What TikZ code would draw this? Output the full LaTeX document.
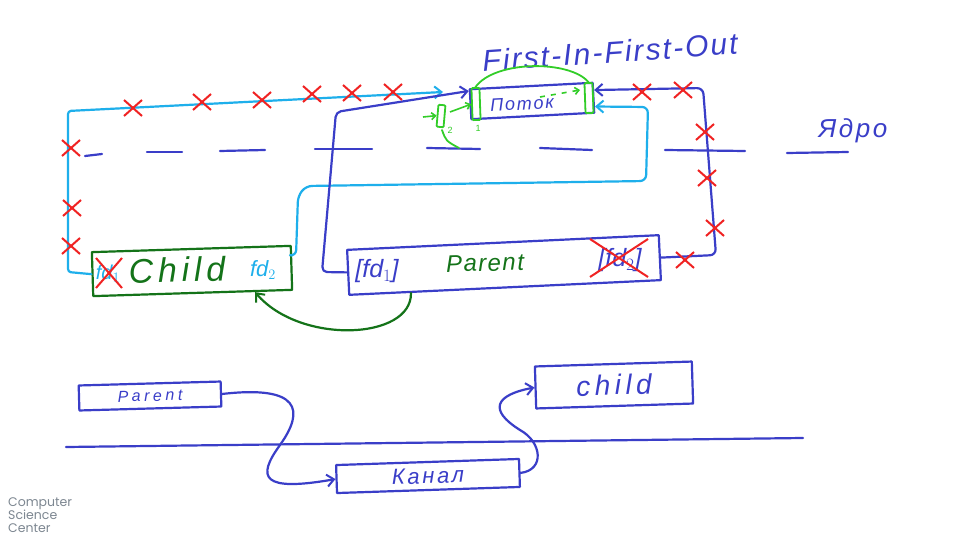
\documentclass[tikz,border=0pt]{standalone}
\usepackage{fontspec}
\setmainfont{Liberation Sans}
\newfontfamily\logofont{Poppins}
\usetikzlibrary{arrows.meta,shapes.misc,calc}
\definecolor{dblue}{RGB}{58,62,200}
\definecolor{cyanc}{RGB}{30,175,235}
\definecolor{redc}{RGB}{240,35,35}
\definecolor{lgreen}{RGB}{50,205,40}
\definecolor{dgreen}{RGB}{20,115,25}
\definecolor{logogray}{RGB}{125,135,145}
\newcommand{\fsz}[1]{\fontsize{#1}{#1}\selectfont}
\newcommand{\hw}[2]{\itshape\fontsize{#1}{#1}\selectfont\addfontfeatures{LetterSpace=#2}}
\begin{document}
\begin{tikzpicture}[x=1pt,y=-1pt,
  hand/.style={line width=2.2pt, line cap=round, line join=round},
  box/.style={hand, draw=dblue, rectangle, inner sep=0pt},
  gbox/.style={hand, draw=dgreen, rectangle, inner sep=0pt},
  lgbox/.style={line width=1.8pt, draw=lgreen, rectangle, rounded corners=1pt, inner sep=0pt},
  tip/.style={-{Straight Barb[length=7pt,width=12pt,line width=2pt]}},
  smalltip/.style={-{Straight Barb[length=4pt,width=7pt,line width=1.6pt]}},
  xmark/.style={cross out, draw=redc, line width=2pt, minimum width=16pt, minimum height=14pt, inner sep=0pt},
  dashseg/.style={hand, draw=dblue},
]
\useasboundingbox (0,0) rectangle (960,540);
\fill[white] (0,0) rectangle (960,540);

% ---- dashed kernel line
\draw[dashseg] (85,156) -- (102,154);
\draw[dashseg] (147,152) -- (182,152);
\draw[dashseg] (220,151) -- (265,150);
\draw[dashseg] (315,149) -- (372,149);
\draw[dashseg] (427,148) -- (480,149);
\draw[dashseg] (540,148) -- (592,150);
\draw[dashseg] (665,150) -- (745,151);
\draw[dashseg] (787,153) -- (848,152);
\node[text=dblue, font=\hw{26}{10}] (yadro) at (853,131) {Ядро};

% ---- title
\node[text=dblue, font=\hw{30}{7}, rotate=4] (fifo) at (610,52) {First-In-First-Out};

% ---- boxes
\node[box, minimum width=123pt, minimum height=30pt, rotate=3] (potok) at (532,101) {};
\node[text=dblue, font=\hw{18}{10}, rotate=3] (potokt) at (522,104) {Поток};

\node[gbox, minimum width=199pt, minimum height=44pt, rotate=1.8] (child) at (192,271) {};
\node[text=dgreen, font=\hw{34}{14}, rotate=1.8] (childt) at (177,270) {Child};
\node[text=cyanc, font=\hw{22}{0}] (cfd2) at (263,270) {fd$_2$};
\node[text=cyanc, font=\hw{20}{0}] (cfd1) at (108,274) {fd$_1$};
\node[xmark, minimum width=24pt, minimum height=28pt] (cx1) at (109,273) {};

\node[box, minimum width=312pt, minimum height=45pt, rotate=2.7] (parent) at (504,265) {};
\node[text=dblue, font=\hw{25}{0}] (pfd1) at (377,271) {[fd$_1$]};
\node[text=dgreen, font=\hw{24}{6}, rotate=2] (parentt) at (485,263) {Parent};
\node[text=dblue, font=\hw{25}{0}] (pfd2) at (620,260) {[fd$_2$]};
\node[xmark, minimum width=56pt, minimum height=36pt] (px) at (619,258) {};

% ---- green marks in the pipe
\node[lgbox, minimum width=8pt, minimum height=32pt, rotate=2] (gl) at (476,104) {};
\node[lgbox, minimum width=8pt, minimum height=30pt, rotate=2] (gr) at (589,98) {};
\node[lgbox, minimum width=7pt, minimum height=22pt, rotate=-5] (g2) at (441,116) {};
\draw[hand, draw=lgreen, line width=1.8pt] (gl.north) .. controls (495,60) and (570,60) .. (gr.north);
\draw[draw=lgreen, line width=1.6pt, dashed, dash pattern=on 5pt off 6pt, smalltip] (540,97) -- (580,90);
\draw[draw=lgreen, line width=1.6pt, smalltip] (423,117) -- (g2.west);
\coordinate (ga) at (450,112);
\draw[draw=lgreen, line width=1.6pt, smalltip] (ga) -- (gl.west);
\node[text=lgreen, font=\fsz{9}] (n2) at (450,130) {2};
\node[text=lgreen, font=\fsz{9}] (n1) at (478,128) {1};
\draw[draw=lgreen, line width=1.8pt, line cap=round] (442,130) .. controls (446,141) .. (459,148);

% ---- cyan connector Child fd1 -> pipe
\coordinate (cyanend) at (443,92);
\draw[hand, draw=cyanc, tip, rounded corners=3pt] (child.west) -- (68,272) -- (68,111) -- (cyanend);
% ---- cyan connector Child fd2 -> pipe
\draw[hand, draw=cyanc, tip, rounded corners=6pt] (child.7) -- (296,256) -- (298,196) -- (306,186) -- (646,181) -- (648,107) -- (potok.-8);

% ---- blue connector Parent fd1 -> pipe
\draw[hand, draw=dblue, tip, rounded corners=5pt] (parent.west) -- (322,272) -- (336,112) -- (potok.168);
% ---- blue connector Parent fd2 -> pipe
\draw[hand, draw=dblue, tip, rounded corners=6pt] (parent.east) -- (716,255) -- (703,88) -- (potok.7);

% ---- red crosses
\foreach \i/\p in {1/{(133,108)},2/{(202,102)},3/{(262,100)},4/{(312,94)},5/{(352,93)},6/{(393,92)},
                   7/{(71,148)},8/{(72,208)},9/{(71,246)},
                   10/{(642,92)},11/{(683,90)},12/{(705,132)},13/{(707,178)},14/{(715,228)},15/{(685,260)}}
  \node[xmark] (x\i) at \p {};

% ---- green arrow Parent -> Child
\coordinate (gs) at ($(parent.south west)!0.2!(parent.south east)$);
\coordinate (ge) at ($(child.south west)!0.81!(child.south east)$);
\draw[hand, draw=dgreen, tip] (gs) .. controls (412,340) and (300,345) .. (ge);

% ---- bottom part
\draw[hand, draw=dblue] (66,447) -- (803,438);
\node[box, minimum width=142pt, minimum height=25pt, rotate=1.6, text=dblue, font=\hw{16}{22}] (sparent) at (150,396) {Parent};
\node[box, minimum width=183pt, minimum height=28pt, rotate=1.9, text=dblue, font=\hw{22}{12}] (kanal) at (428,476) {Канал};
\node[box, minimum width=157pt, minimum height=42pt, rotate=1.8, text=dblue, font=\hw{28}{16}] (child2) at (614,385) {child};
\draw[hand, draw=dblue, tip] (sparent.east) .. controls (300,385) and (305,410) .. (280,445) .. controls (256,478) and (262,492) .. (kanal.west);
\draw[hand, draw=dblue, tip] (kanal.east) .. controls (545,470) and (542,442) .. (520,430) .. controls (488,410) and (495,395) .. (child2.west);

% ---- logo
\node[anchor=north west, text=logogray, font=\logofont\fontsize{12.5}{13}\selectfont, align=left, inner sep=0pt] (logo) at (8,497) {Computer\\Science\\Center};
\end{tikzpicture}
\end{document}
